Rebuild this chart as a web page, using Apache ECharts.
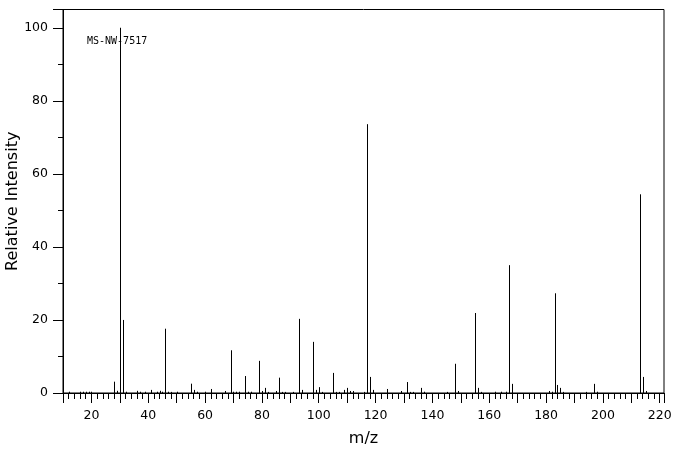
<!DOCTYPE html>
<html>
<head>
<meta charset="utf-8">
<script src="https://cdn.jsdelivr.net/npm/echarts@6/dist/echarts.min.js"></script>
<style>html,body{margin:0;padding:0;background:#fff;}#c{width:676px;height:455px;}</style>
</head>
<body>
<div id="c"></div>
<script>
// m/z values and relative intensities
const mz = [12,16,17,18,19,20,28,29,30,31,32,36,37,39,41,43,44,45,46,47,48,50,55,56,57,60,62,67,69,70,71,72,74,75,76,79,80,81,82,85,86,87,88,91,93,94,98,99,100,101,105,106,107,109,110,111,112,116,117,118,119,124,129,131,132,133,136,137,145,148,149,155,156,157,162,164,166,167,168,181,182,183,184,185,186,194,197,198,213,214,215];
const intensity = [0.35,0.35,0.35,0.35,0.35,0.35,3.1,0.6,100,20.0,0.35,0.6,0.35,0.35,0.85,0.35,0.6,0.35,17.6,0.35,0.3,0.35,2.55,0.85,0.35,0.35,1.1,0.55,11.7,0.35,0.35,0.35,4.65,0.35,0.35,8.8,0.55,1.4,0.3,0.55,4.2,0.3,0.3,0.3,20.3,0.85,14.0,0.85,1.6,0.3,5.5,0.3,0.3,0.85,1.4,0.55,0.55,0.3,73.6,4.4,0.85,1.1,0.55,3.0,0.3,0.3,1.4,0.35,0.3,8.0,0.55,21.9,1.4,0.3,0.35,0.35,0.35,35.0,2.5,0.55,0.35,27.3,2.2,1.4,0.3,0.3,2.5,0.35,54.4,4.4,0.55];
const xTickLabels = [20,40,60,80,100,120,140,160,180,200,220];
const yTickLabels = [0,20,40,60,80,100];
const annotation = 'MS-NW-7517';

const chart = echarts.init(document.getElementById('c'), null, {renderer: 'canvas'});
const font = 'DejaVu Sans';
chart.setOption({
  animation: false,
  backgroundColor: '#fff',
  title: {
    text: annotation, left: 87, top: 36, padding: 0,
    textStyle: {fontFamily: 'DejaVu Sans Mono', fontSize: 10, fontWeight: 'normal', color: '#000'}
  },
  grid: {left: 63, right: 12, top: 9.5, bottom: 62, containLabel: false, outerBoundsMode: 'none',
         show: true, borderColor: '#000', borderWidth: 1, backgroundColor: 'transparent'},
  xAxis: {
    type: 'value', min: 10, max: 221.5, interval: 10,
    name: 'm/z', nameLocation: 'middle', nameGap: 38, nameMoveOverlap: false,
    nameTextStyle: {fontFamily: font, fontSize: 16, color: '#000'},
    axisLine: {show: true, lineStyle: {color: '#000', width: 1}},
    axisTick: {show: true, inside: false, length: 10, lineStyle: {color: '#000'}},
    minorTick: {show: true, splitNumber: 5, length: 6, lineStyle: {color: '#000'}},
    splitLine: {show: false},
    axisLabel: {
      show: true, margin: 16, color: '#000', fontFamily: font, fontSize: 12.5,
      showMinLabel: false, showMaxLabel: false,
      formatter: v => xTickLabels.includes(v) ? String(v) : ''
    }
  },
  yAxis: {
    type: 'value', min: 0, max: 105, interval: 20,
    name: 'Relative Intensity', nameLocation: 'middle', nameGap: 42, nameRotate: 90, nameMoveOverlap: false,
    nameTextStyle: {fontFamily: font, fontSize: 16, color: '#000'},
    axisLine: {show: true, lineStyle: {color: '#000', width: 1}},
    axisTick: {show: true, inside: false, length: 10, lineStyle: {color: '#000'}},
    minorTick: {show: true, splitNumber: 2, length: 5, lineStyle: {color: '#000'}},
    splitLine: {show: false},
    axisLabel: {
      show: true, margin: 15, color: '#000', fontFamily: font, fontSize: 12.5,
      showMaxLabel: false,
      formatter: v => yTickLabels.includes(v) ? String(v) : ''
    }
  },
  series: [{
    type: 'custom',
    data: mz.map((m, i) => [m, intensity[i]]),
    encode: {x: 0, y: 1},
    renderItem: function (params, api) {
      const base = api.coord([api.value(0), 0]);
      const top = api.coord([api.value(0), api.value(1)]);
      const x = Math.round(base[0]) + 0.5;
      return {
        type: 'line',
        shape: {x1: x, y1: base[1], x2: x, y2: top[1]},
        style: {stroke: '#000', lineWidth: 1}
      };
    }
  }]
});
</script>
</body>
</html>
